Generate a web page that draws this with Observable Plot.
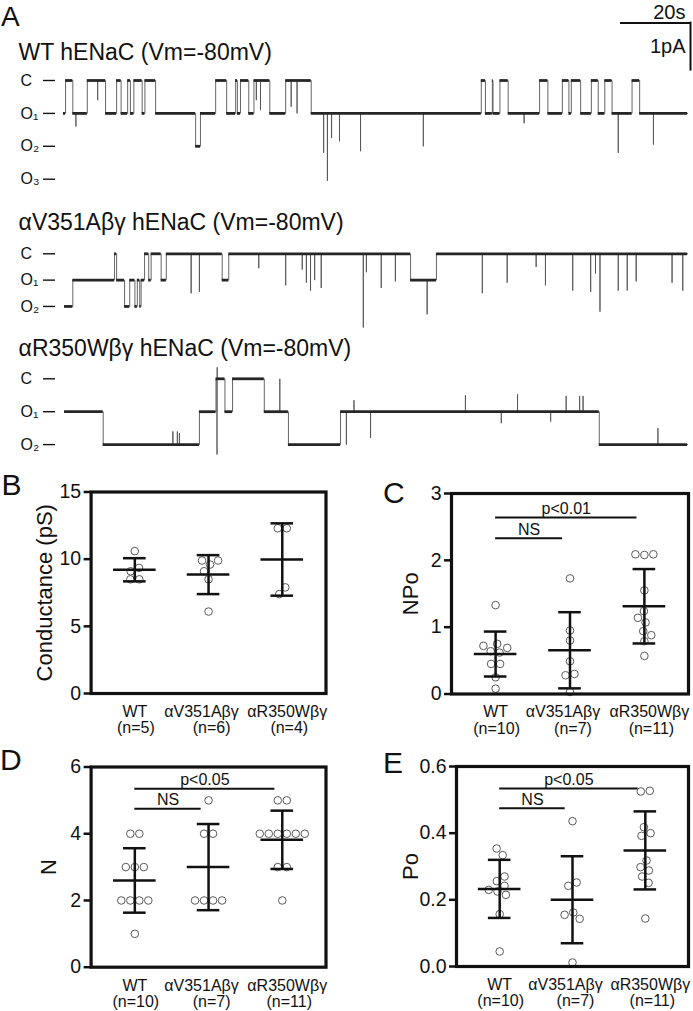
<!DOCTYPE html>
<html><head><meta charset="utf-8">
<script src="https://cdn.jsdelivr.net/npm/d3@7"></script>
<script src="https://cdn.jsdelivr.net/npm/@observablehq/plot@0.6"></script>
<style>
body{margin:0;background:#fff}
#root{position:relative;width:693px;height:1011px;overflow:hidden;font-family:"Liberation Sans",Arial,Helvetica,sans-serif}
.pane{position:absolute}
.pane svg{display:block;background:none !important;overflow:visible;max-width:none}
.scat svg [aria-label^="y-axis"] path,.scat svg [aria-label^="y-axis"] line{stroke-width:2.5px}
.trace svg [aria-label^="y-axis"] path,.trace svg [aria-label^="y-axis"] line{stroke-width:1.4px}
</style></head>
<body><div id="root"></div>
<script>
// ---------- DATA ----------
// Panel A: single-channel traces. Steps: [time (s), number of open channels]; spikes: [time (s), peak level]
const levelNames = ["C", "O₁", "O₂", "O₃"];
const unitCurrent = [0.70, 0.56, 0.70]; // pA per open channel (trace 1..3)
const traceEnd = 180.9;
const scaleBarTime = 20;   // s
const scaleBarCurrent = 1; // pA

const trace1Steps = [[0,1],[0.6,0],[2.7,1],[6.9,0],[12.2,1],[15.4,0],[16.7,1],[18.6,0],[19.4,1],[20.4,0],[22.8,1],[23.6,0],[26.7,1],[38.3,2],[39.7,1],[44.1,0],[47.3,1],[49.9,0],[50.4,1],[51.3,0],[53.7,1],[55.2,0],[59.8,1],[64.4,0],[71.8,1],[121.1,0],[122.3,1],[124.3,0],[124.5,1],[126.5,0],[128.9,1],[138.0,0],[140.4,1],[144.6,0],[146.5,1],[147.2,0],[149.9,1],[153.0,0],[155.0,1],[156.9,0],[159.0,1],[164.8,0],[167.0,1]];
const trace1Spikes = [[3.6,1.4],[9.9,0.6],[55.9,0.6],[57.1,0.9],[66.0,0.8],[67.7,1.0],[75.4,2.2],[76.5,3.05],[77.7,1.75],[80.0,1.85],[86.1,2.15],[104.3,2.0],[133.5,1.3],[160.8,2.2],[171.0,1.95]];

const trace2Steps = [[0.3,2],[2.7,1],[14.8,0],[15.4,1],[17.7,2],[19.2,1],[20.7,2],[21.4,1],[22.1,2],[22.5,1],[23.5,0],[24.7,1],[25.4,0],[28.3,1],[29.8,0],[46.0,1],[47.9,0],[100.6,1],[108.1,0]];
const trace2Spikes = [[37.0,1.5],[39.4,1.45],[56.6,0.55],[64.4,1.2],[69.2,0.6],[70.4,1.1],[71.6,1.4],[72.8,1.0],[74.7,1.3],[86.9,2.8],[87.8,0.7],[92.1,1.3],[96.2,1.05],[105.4,2.3],[121.4,1.5],[128.6,1.1],[137.0,0.5],[139.7,1.2],[147.6,1.4],[152.8,1.45],[154.2,0.75],[155.5,2.2],[160.8,1.4],[163.4,1.4],[166.0,1.05],[176.4,1.1],[179.5,1.4]];

const trace3Steps = [[0.3,1],[11.5,2],[39.4,1],[44.2,0],[46.8,1],[49.0,0],[58.2,1],[65.2,2],[80.3,1],[155.3,2]];
const trace3Spikes = [[31.7,1.6],[33.0,1.6],[33.6,1.65],[44.5,2.3],[44.55,-0.35],[62.7,0.0],[82.0,2.0],[84.2,0.65],[89.0,1.8],[116.5,0.5],[126.9,1.35],[131.6,0.47],[141.2,1.3],[145.7,0.52],[149.6,0.52],[150.6,0.52],[172.3,1.5]];

const traceTitles = ["WT hENaC (Vm=-80mV)", "αV351Aβγ hENaC (Vm=-80mV)", "αR350Wβγ hENaC (Vm=-80mV)"];

// Panels B–E
const groupNames = ["WT", "αV351Aβγ", "αR350Wβγ"];

const condWT = [10.6, 9.35, 9.1, 8.5, 8.5];
const condV351A = [9.6, 9.9, 9.9, 9.1, 8.5, 6.1];
const condR350W = [12.3, 12.3, 7.9, 7.4];
const condTicks = [0, 5, 10, 15];

const npoWT = [0.62, 0.64, 0.69, 0.72, 0.75, 0.45, 0.45, 1.33, 0.25, 0.08];
const npoV351A = [1.73, 0.95, 0.80, 0.49, 0.30, 0.28, 0.03];
const npoR350W = [2.08, 2.09, 2.09, 1.55, 1.24, 1.14, 1.07, 0.94, 0.88, 0.79, 0.57];
const npoTicks = [0, 1, 2, 3];
const npoBrackets = [["p<0.01", 0, 2, 2.64], ["NS", 0, 1, 2.33]];

const nWT = [2, 2, 2, 2, 3, 3, 3, 4, 4, 1];
const nV351A = [5, 4, 4, 2, 2, 2, 2];
const nR350W = [5, 5, 4, 4, 4, 4, 4, 4, 3, 3, 2];
const nTicks = [0, 2, 4, 6];
const nBrackets = [["p<0.05", 0, 2, 5.35], ["NS", 0, 1, 4.75]];

const poWT = [0.225, 0.23, 0.215, 0.242, 0.256, 0.27, 0.334, 0.354, 0.157, 0.045];
const poV351A = [0.436, 0.252, 0.242, 0.162, 0.155, 0.143, 0.012];
const poR350W = [0.527, 0.525, 0.418, 0.392, 0.40, 0.318, 0.298, 0.288, 0.27, 0.251, 0.144];
const poTicks = [0, 0.2, 0.4, 0.6];
const poBrackets = [["p<0.05", 0, 2, 0.534], ["NS", 0, 1, 0.475]];

// ---------- LAYOUT / STYLE ----------
const FONT = '"Liberation Sans", Arial, Helvetica, sans-serif';
const PX_PER_PA = 47;
const SPAN = traceEnd + 0.84; // x-domain end of the traces (scale bar end)
const root = document.getElementById("root");

function addPane(node, left, top, cls) {
  const d = document.createElement("div");
  d.className = "pane " + cls;
  d.style.left = left + "px"; d.style.top = top + "px";
  d.appendChild(node); root.appendChild(d);
}

function buildTrace(steps, spikes, end, unit) {
  const ev = [];
  steps.forEach(([t, L]) => ev.push({t, step: true, L}));
  spikes.forEach(([t, P]) => ev.push({t, step: false, P}));
  ev.sort((a, b) => a.t - b.t);
  const pts = []; let cur = null;
  for (const e of ev) {
    if (e.step) { if (cur !== null) pts.push({t: e.t, I: -cur * unit}); cur = e.L; pts.push({t: e.t, I: -cur * unit}); }
    else pts.push({t: e.t, I: -cur * unit}, {t: e.t, I: -e.P * unit}, {t: e.t, I: -cur * unit});
  }
  pts.push({t: end, I: -cur * unit});
  return pts;
}

function tracePlot({steps, spikes, unit, top, height, zeroY, nLevels, scale}) {
  const pts = buildTrace(steps, spikes, traceEnd, unit);
  const dwells = steps.map(([t, L], i) => ({t0: t, t1: i + 1 < steps.length ? steps[i + 1][0] : traceEnd, I: -L * unit}));
  const levels = d3.range(nLevels).map(L => ({I: -L * unit, name: levelNames[L]}));
  const yDom = [-(top + height - zeroY) / PX_PER_PA, (zeroY - top) / PX_PER_PA];
  const marks = [
    Plot.line(pts, {x: "t", y: "I", stroke: "#555", strokeWidth: 0.9}),
    Plot.ruleY(dwells, {x1: "t0", x2: "t1", y: "I", stroke: "#262626", strokeWidth: 2.8}),
    Plot.text(levels, {y: "I", text: "name", frameAnchor: "left", dx: -35, textAnchor: "start", fontSize: 16, fill: "#111"})
  ];
  if (scale) {
    const sTop = yDom[1] - 22.6 / PX_PER_PA;
    const bar = [{time: scaleBarTime, cur: scaleBarCurrent}];
    marks.push(
      Plot.ruleY(bar, {x1: d => SPAN - d.time, x2: SPAN, y: sTop, strokeWidth: 2, strokeLinecap: "square"}),
      Plot.ruleX(bar, {x: SPAN, y1: sTop, y2: d => sTop - d.cur, strokeWidth: 2, strokeLinecap: "square"}),
      Plot.text(bar, {x: SPAN, y: sTop, text: d => d.time + "s", textAnchor: "end", lineAnchor: "middle", dx: -5, dy: -11, fontSize: 20}),
      Plot.text(bar, {x: SPAN, y: d => sTop - d.cur / 2, text: d => d.cur + "pA", textAnchor: "end", lineAnchor: "middle", dx: -5, fontSize: 20})
    );
  }
  return Plot.plot({
    width: 693, height, marginLeft: 55, marginRight: 3, marginTop: 0, marginBottom: 0, insetLeft: 8,
    x: {domain: [0, SPAN], axis: null},
    y: {domain: yDom, ticks: levels.map(d => d.I), tickSize: 12, tickFormat: () => "", label: null},
    style: {background: "none", fontFamily: FONT, fontSize: "16px", color: "#111", overflow: "visible"},
    marks
  });
}

addPane(tracePlot({steps: trace1Steps, spikes: trace1Spikes, unit: unitCurrent[0], top: 0, height: 190, zeroY: 80, nLevels: 4, scale: true}), 0, 0, "trace");
addPane(tracePlot({steps: trace2Steps, spikes: trace2Spikes, unit: unitCurrent[1], top: 232, height: 98, zeroY: 253.3, nLevels: 3}), 0, 232, "trace");
addPane(tracePlot({steps: trace3Steps, spikes: trace3Spikes, unit: unitCurrent[2], top: 360, height: 95, zeroY: 378.3, nLevels: 3}), 0, 360, "trace");

// ---------- scatter panels ----------
const X_DOMAIN = [-0.593, 2.593];
const nameShift = [0, -7, 5];   // px nudges of the category names (as in the reference)
const countShift = [1, 3, 7];   // px nudges of the (n=…) lines
function swarmOffsets(values, pxPerUnit) {
  const D = 9;
  const placed = [];
  for (const v of values) {
    const y = v * pxPerUnit;
    const cands = [0];
    for (const p of placed) {
      const dy = Math.abs(p.y - y);
      if (dy < D) { const dx = Math.sqrt(D * D - dy * dy); cands.push(p.x - dx, p.x + dx); }
    }
    cands.sort((a, b) => Math.abs(a) - Math.abs(b) || a - b);
    let x = cands.find(c => placed.every(p => Math.hypot(p.x - c, p.y - y) >= D - 1e-6));
    if (x === undefined) x = d3.max(placed, p => p.x) + D;
    placed.push({x, y});
  }
  const comp = placed.map((_, i) => i);
  const find = i => comp[i] === i ? i : (comp[i] = find(comp[i]));
  placed.forEach((p, i) => placed.forEach((q, j) => {
    if (j > i && Math.hypot(p.x - q.x, p.y - q.y) < D + 0.5) comp[find(i)] = find(j);
  }));
  const groups = d3.group(placed.map((p, i) => i), i => find(i));
  for (const idx of groups.values()) { const m = d3.mean(idx, i => placed[i].x); idx.forEach(i => placed[i].x -= m); }
  return placed.map(p => p.x);
}

function scatterPlot(c) {
  const pxPerY = (c.frameB - c.frameT) / (c.domain[1] - c.domain[0]);
  const pxPerX = (c.frameR - c.frameL) / (X_DOMAIN[1] - X_DOMAIN[0]);
  const dots = c.groups.flatMap((vals, i) => {
    const offs = swarmOffsets(vals, pxPerY);
    return vals.map((v, j) => ({x: i + offs[j] / pxPerX, v}));
  });
  const summary = c.groups.map((vals, i) => ({i, mean: d3.mean(vals), sd: d3.deviation(vals)}));
  const caps = summary.flatMap(s => [{i: s.i, y: s.mean + s.sd}, {i: s.i, y: s.mean - s.sd}]);
  const mH = 21.3 / pxPerX, cH = 11.3 / pxPerX, bEnd = 0.1;
  const names = c.groups.map((vals, i) => ({x: i + nameShift[i] / pxPerX, label: groupNames[i]}));
  const counts = c.groups.map((vals, i) => ({x: i + countShift[i] / pxPerX, label: "(n=" + vals.length + ")"}));
  const br = (c.brackets || []).map(([label, from, to, y]) => ({label, from, to, y}));
  return Plot.plot({
    width: c.width, height: c.height,
    marginLeft: c.frameL - c.left, marginRight: c.left + c.width - c.frameR,
    marginTop: c.frameT - c.top, marginBottom: c.top + c.height - c.frameB,
    x: {domain: X_DOMAIN, axis: null},
    y: {domain: c.domain, ticks: c.ticks, tickSize: 7, tickPadding: 3, tickFormat: c.fmt, label: null},
    style: {background: "none", fontFamily: FONT, fontSize: "19.5px", color: "#111", overflow: "visible"},
    marks: [
      Plot.dot(dots, {x: "x", y: "v", r: 3.8, fill: "white", stroke: "#5a5a5a", strokeWidth: 1}),
      Plot.ruleY(summary, {y: "mean", x1: d => d.i - mH, x2: d => d.i + mH, strokeWidth: 2.5}),
      Plot.ruleX(summary, {x: "i", y1: d => d.mean - d.sd, y2: d => d.mean + d.sd, strokeWidth: 2.5}),
      Plot.ruleY(caps, {y: "y", x1: d => d.i - cH, x2: d => d.i + cH, strokeWidth: 2.5}),
      Plot.ruleY(br, {y: "y", x1: "from", x2: d => d.to - bEnd, strokeWidth: 2}),
      Plot.text(br, {x: d => (d.from + d.to - bEnd) / 2, y: "y", text: "label", dy: -8.5, fontSize: 16}),
      Plot.text(names, {x: "x", y: c.domain[0], text: "label", lineAnchor: "top", dy: 12, fontSize: 16}),
      Plot.text(counts, {x: "x", y: c.domain[0], text: "label", lineAnchor: "top", dy: 28.5, fontSize: 16}),
      Plot.text([c.label], {text: d => d, frameAnchor: "left", textAnchor: "middle", lineAnchor: "middle", rotate: -90, dx: c.labelDx, fontSize: 22}),
      Plot.frame({strokeWidth: 3.2})
    ]
  });
}

const fmtInt = d => String(d);
addPane(scatterPlot({left: 0, top: 470, width: 340, height: 280, frameL: 90.6, frameR: 325.5, frameT: 491.5, frameB: 693,
  domain: [0, 15], ticks: condTicks, fmt: fmtInt, label: "Conductance (pS)", labelDx: -46,
  groups: [condWT, condV351A, condR350W]}), 0, 470, "scat");
addPane(scatterPlot({left: 350, top: 470, width: 343, height: 280, frameL: 451, frameR: 688, frameT: 493, frameB: 693.5,
  domain: [0, 3], ticks: npoTicks, fmt: fmtInt, label: "NPo", labelDx: -41,
  groups: [npoWT, npoV351A, npoR350W], brackets: npoBrackets}), 350, 470, "scat");
addPane(scatterPlot({left: 0, top: 750, width: 340, height: 261, frameL: 90.6, frameR: 325.5, frameT: 766.5, frameB: 966.7,
  domain: [0, 6], ticks: nTicks, fmt: fmtInt, label: "N", labelDx: -42,
  groups: [nWT, nV351A, nR350W], brackets: nBrackets}), 0, 750, "scat");
addPane(scatterPlot({left: 350, top: 750, width: 343, height: 261, frameL: 456, frameR: 688, frameT: 766, frameB: 966,
  domain: [0, 0.6], ticks: poTicks, fmt: d => d.toFixed(1), label: "Po", labelDx: -46,
  groups: [poWT, poV351A, poR350W], brackets: poBrackets}), 350, 750, "scat");

// ---------- static text overlay (titles, panel letters) ----------
const ov = d3.create("svg").attr("width", 693).attr("height", 1011)
  .style("position", "absolute").style("left", 0).style("top", 0).style("pointer-events", "none")
  .style("font-family", FONT).attr("fill", "#111");
[["A", 1, 26, 28], ["B", 1.5, 495, 30], ["C", 383, 503, 30], ["D", 0, 770, 30], ["E", 383, 773, 30]].forEach(([t, x, y, s]) =>
  ov.append("text").attr("x", x).attr("y", y).attr("font-size", s).text(t));
traceTitles.forEach((t, i) =>
  ov.append("text").attr("x", 18.6).attr("y", [60, 229.5, 355.5][i]).attr("font-size", 23).text(t));
root.appendChild(ov.node());
</script>
</body></html>
